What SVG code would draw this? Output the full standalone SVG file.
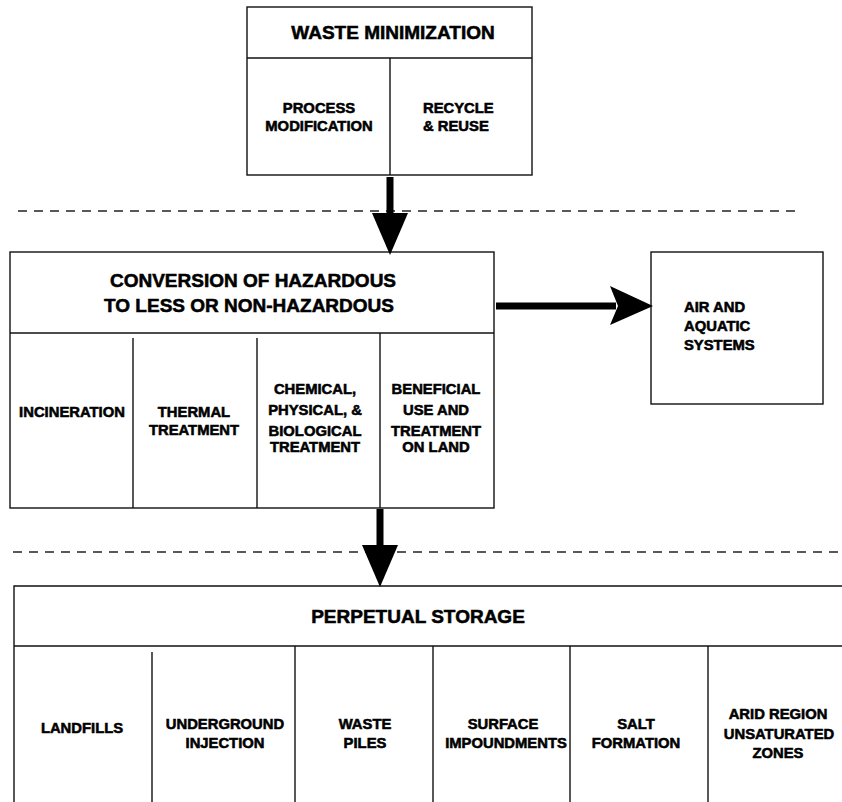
<svg xmlns="http://www.w3.org/2000/svg" width="842" height="802" viewBox="0 0 842 802">
<style>
.box{fill:#fff;stroke:#111;stroke-width:1.4}
.ln{stroke:#111;stroke-width:1.4;fill:none}
.dash{stroke:#222;stroke-width:1.3;stroke-dasharray:9 7;fill:none}
.t{font-family:"Liberation Sans",Arial,sans-serif;font-weight:bold;fill:#000;stroke:#000;stroke-width:0.55}
.h{font-size:19px;text-anchor:middle}
.c{font-size:14.8px;text-anchor:middle}
.s{font-size:14.8px;text-anchor:start}
.shaft{stroke:#000;stroke-width:7;fill:none}
.head{fill:#000}
</style>
<rect width="842" height="802" fill="#fff"/>
<g id="dividers">
<line class="dash" x1="18" y1="211" x2="802" y2="211"/>
<line class="dash" x1="13" y1="552" x2="842" y2="552"/>
</g>
<g id="waste-minimization">
<rect class="box" x="247" y="7" width="285" height="168"/>
<line class="ln" x1="247" y1="58" x2="532" y2="58"/>
<line class="ln" x1="390" y1="58" x2="390" y2="175"/>
<text class="t h" x="393" y="39">WASTE MINIMIZATION</text>
<text class="t c" x="319" y="113">PROCESS</text>
<text class="t c" x="319" y="131">MODIFICATION</text>
<text class="t s" x="423" y="113">RECYCLE</text>
<text class="t s" x="423" y="131">&amp; REUSE</text>
</g>
<g id="conversion">
<rect class="box" x="10" y="252" width="484" height="256"/>
<line class="ln" x1="10" y1="333" x2="494" y2="333"/>
<line class="ln" x1="133" y1="338" x2="133" y2="508"/>
<line class="ln" x1="257" y1="338" x2="257" y2="508"/>
<line class="ln" x1="380" y1="333" x2="380" y2="508"/>
<text class="t h" x="253" y="287">CONVERSION OF HAZARDOUS</text>
<text class="t h" x="249" y="312">TO LESS OR NON-HAZARDOUS</text>
<text class="t c" x="72" y="417">INCINERATION</text>
<text class="t c" x="194" y="417">THERMAL</text>
<text class="t c" x="194" y="435">TREATMENT</text>
<text class="t c" x="315" y="394">CHEMICAL,</text>
<text class="t c" x="315" y="415">PHYSICAL, &amp;</text>
<text class="t c" x="315" y="436">BIOLOGICAL</text>
<text class="t c" x="315" y="452">TREATMENT</text>
<text class="t c" x="436" y="394">BENEFICIAL</text>
<text class="t c" x="436" y="415">USE AND</text>
<text class="t c" x="436" y="436">TREATMENT</text>
<text class="t c" x="436" y="452">ON LAND</text>
</g>
<g id="air-aquatic">
<rect class="box" x="651" y="252" width="172" height="152"/>
<text class="t s" x="684" y="312">AIR AND</text>
<text class="t s" x="684" y="331">AQUATIC</text>
<text class="t s" x="684" y="350">SYSTEMS</text>
</g>
<g id="perpetual-storage">
<polyline class="ln" points="14,802 14,586 842,586"/>
<line class="ln" x1="14" y1="646" x2="842" y2="646"/>
<line class="ln" x1="152" y1="652" x2="152" y2="802"/>
<line class="ln" x1="295" y1="646" x2="295" y2="802"/>
<line class="ln" x1="433" y1="646" x2="433" y2="802"/>
<line class="ln" x1="570" y1="646" x2="570" y2="802"/>
<line class="ln" x1="708" y1="646" x2="708" y2="802"/>
<text class="t h" x="418" y="623">PERPETUAL STORAGE</text>
<text class="t c" x="82" y="733">LANDFILLS</text>
<text class="t c" x="225" y="729">UNDERGROUND</text>
<text class="t c" x="225" y="748">INJECTION</text>
<text class="t c" x="365" y="729">WASTE</text>
<text class="t c" x="365" y="748">PILES</text>
<text class="t c" x="503" y="729">SURFACE</text>
<text class="t c" x="506" y="748">IMPOUNDMENTS</text>
<text class="t c" x="636" y="729">SALT</text>
<text class="t c" x="636" y="748">FORMATION</text>
<text class="t c" x="778" y="719">ARID REGION</text>
<text class="t c" x="779" y="739">UNSATURATED</text>
<text class="t c" x="778" y="758">ZONES</text>
</g>
<g id="connectors">
<line class="shaft" x1="390" y1="177" x2="390" y2="218"/>
<polygon class="head" points="372,213 408,213 390,255"/>
<line class="shaft" x1="496" y1="306" x2="616" y2="306"/>
<polygon class="head" points="610,286 653,306 610,325 618,306"/>
<line class="shaft" x1="380" y1="509" x2="380" y2="550"/>
<polygon class="head" points="362,545 398,545 380,587"/>
</g>
</svg>
